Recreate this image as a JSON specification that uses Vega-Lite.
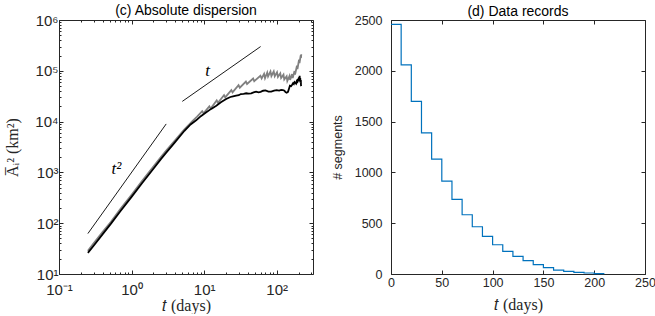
{
  "$schema": "https://vega.github.io/schema/vega-lite/v6.json",
  "background": "white",
  "autosize": {"type": "pad"},
  "padding": {"left": 4, "top": 3, "right": 0, "bottom": 0},
  "bounds": "flush",
  "spacing": 78,
  "config": {
    "view": {"stroke": "#262626", "strokeWidth": 1},
    "axis": {
      "grid": false,
      "domain": false,
      "tickColor": "#262626",
      "tickWidth": 1,
      "labelFont": "Liberation Sans",
      "labelFontSize": 12.5,
      "labelColor": "#262626",
      "labelFlush": false,
      "labelOverlap": false,
      "titleFont": "Liberation Sans",
      "titleFontSize": 12.5,
      "titleFontWeight": "normal",
      "titleColor": "#262626"
    },
    "title": {"font": "Liberation Sans", "fontSize": 14, "fontWeight": "normal", "color": "#000000", "offset": -5}
  },
  "datasets": {
    "black": [
      {"t": 0.25, "A": 26}, {"t": 0.3, "A": 36}, {"t": 0.4, "A": 61}, {"t": 0.52, "A": 98},
      {"t": 0.7, "A": 172}, {"t": 1, "A": 330}, {"t": 1.4, "A": 620}, {"t": 2, "A": 1180},
      {"t": 2.55, "A": 1850}, {"t": 3, "A": 2450}, {"t": 4, "A": 4000}, {"t": 5.35, "A": 6600},
      {"t": 6.5, "A": 8800}, {"t": 7.76, "A": 10600}, {"t": 9, "A": 12800}, {"t": 10.7, "A": 15200},
      {"t": 12.5, "A": 17800}, {"t": 14.7, "A": 20600}, {"t": 17, "A": 24000}, {"t": 20.1, "A": 27900},
      {"t": 23, "A": 30500}, {"t": 25, "A": 31500}, {"t": 27.6, "A": 32400}, {"t": 30, "A": 33000},
      {"t": 32, "A": 34800}, {"t": 35, "A": 35200}, {"t": 37.9, "A": 36100}, {"t": 41, "A": 35500},
      {"t": 44.5, "A": 36000}, {"t": 48, "A": 37500}, {"t": 52, "A": 39000}, {"t": 56, "A": 37800},
      {"t": 60, "A": 38500}, {"t": 65, "A": 40500}, {"t": 70, "A": 41000}, {"t": 77, "A": 39000},
      {"t": 84, "A": 38800}, {"t": 92, "A": 40500}, {"t": 100, "A": 41500}, {"t": 108, "A": 40800},
      {"t": 115, "A": 42000}, {"t": 122, "A": 41500}, {"t": 128, "A": 40500}, {"t": 132, "A": 38000},
      {"t": 137, "A": 37000}, {"t": 143, "A": 38500}, {"t": 148, "A": 45000}, {"t": 152, "A": 51000},
      {"t": 158, "A": 50000}, {"t": 163, "A": 53000}, {"t": 168, "A": 57000}, {"t": 172, "A": 55000},
      {"t": 176, "A": 60000}, {"t": 181, "A": 58000}, {"t": 185, "A": 56000}, {"t": 189, "A": 63000},
      {"t": 193, "A": 61000}, {"t": 196, "A": 69000}, {"t": 199, "A": 62000}, {"t": 202, "A": 74000},
      {"t": 205, "A": 66000}, {"t": 207, "A": 80000}, {"t": 209, "A": 62000}, {"t": 211, "A": 72000},
      {"t": 213, "A": 58000}, {"t": 215, "A": 66000}, {"t": 216, "A": 52000}, {"t": 218, "A": 50000}
    ],
    "gray": [
      {"t": 0.25, "A": 28.5}, {"t": 0.3, "A": 40}, {"t": 0.4, "A": 68}, {"t": 0.52, "A": 107},
      {"t": 0.7, "A": 190}, {"t": 1, "A": 362}, {"t": 1.4, "A": 680}, {"t": 2, "A": 1300},
      {"t": 2.55, "A": 2030}, {"t": 3, "A": 2700}, {"t": 4, "A": 4350}, {"t": 5.35, "A": 7000},
      {"t": 7, "A": 10500}, {"t": 8, "A": 12500},
      {"t": 9.4, "A": 16000}, {"t": 9.8, "A": 14600},
      {"t": 11.8, "A": 20000}, {"t": 12.3, "A": 18000},
      {"t": 14.9, "A": 26000}, {"t": 15.5, "A": 23500},
      {"t": 18.8, "A": 33200}, {"t": 19.5, "A": 30000},
      {"t": 23.7, "A": 41700}, {"t": 24.6, "A": 37700},
      {"t": 29.8, "A": 52000}, {"t": 31, "A": 46500},
      {"t": 37.6, "A": 61500}, {"t": 39, "A": 55000},
      {"t": 47.3, "A": 70500}, {"t": 49, "A": 62500},
      {"t": 59.6, "A": 80000}, {"t": 62, "A": 70500},
      {"t": 67, "A": 87000}, {"t": 69, "A": 71500},
      {"t": 74, "A": 92500}, {"t": 76, "A": 77500},
      {"t": 82, "A": 97000}, {"t": 84.5, "A": 79000},
      {"t": 91, "A": 97000}, {"t": 94, "A": 78000},
      {"t": 101, "A": 93500}, {"t": 104, "A": 75500},
      {"t": 112, "A": 89000}, {"t": 115, "A": 72000},
      {"t": 124, "A": 84000}, {"t": 127, "A": 67500},
      {"t": 137, "A": 78000}, {"t": 140, "A": 63000},
      {"t": 150, "A": 79000}, {"t": 153, "A": 66000},
      {"t": 163, "A": 86000}, {"t": 166, "A": 72000},
      {"t": 176, "A": 99000}, {"t": 179, "A": 84000},
      {"t": 190, "A": 126000}, {"t": 193, "A": 108000},
      {"t": 203, "A": 165000}, {"t": 206, "A": 142000},
      {"t": 214, "A": 200000}, {"t": 216, "A": 180000}, {"t": 218, "A": 212000}
    ],
    "guides": [
      {"g": "t2", "t": 0.25, "A": 62.5}, {"g": "t2", "t": 3, "A": 9000},
      {"g": "t1", "t": 5, "A": 25000}, {"g": "t1", "t": 60, "A": 300000}
    ],
    "guideLabels": [
      {"t": 0.62, "A": 1170, "label": "t²"},
      {"t": 11.2, "A": 100000, "label": "t"}
    ],
    "records": [
      {"t": 0, "n": 2457}, {"t": 10, "n": 2058}, {"t": 20, "n": 1700}, {"t": 30, "n": 1389},
      {"t": 40, "n": 1130}, {"t": 50, "n": 914}, {"t": 60, "n": 734}, {"t": 70, "n": 583},
      {"t": 80, "n": 465}, {"t": 90, "n": 370}, {"t": 100, "n": 288}, {"t": 110, "n": 223},
      {"t": 120, "n": 174}, {"t": 130, "n": 131}, {"t": 140, "n": 92}, {"t": 150, "n": 62},
      {"t": 160, "n": 39}, {"t": 170, "n": 26}, {"t": 180, "n": 16}, {"t": 190, "n": 10},
      {"t": 200, "n": 3}, {"t": 210, "n": 3}
    ]
  },
  "hconcat": [
    {
      "width": 254,
      "height": 254,
      "title": {"text": "(c) Absolute dispersion"},
      "layer": [
        {
          "data": {"name": "gray"},
          "mark": {"type": "line", "color": "#808080", "strokeWidth": 1.8},
          "encoding": {
            "x": {"field": "t", "type": "quantitative",
              "scale": {"type": "log", "domain": [0.1, 316.2278], "nice": false},
              "axis": {"orient": "top", "labels": false, "title": null,
                "values": [0.1,0.2,0.3,0.4,0.5,0.6,0.7,0.8,0.9,1,2,3,4,5,6,7,8,9,10,20,30,40,50,60,70,80,90,100,200,300],
                "tickSize": {"condition": {"test": "indexof([0.1,1,10,100], datum.value) >= 0", "value": -4}, "value": -2}}},
            "y": {"field": "A", "type": "quantitative",
              "scale": {"type": "log", "domain": [10, 1000000], "nice": false},
              "axis": {"orient": "right", "labels": false, "title": null,
                "values": [10,20,30,40,50,60,70,80,90,100,200,300,400,500,600,700,800,900,1000,2000,3000,4000,5000,6000,7000,8000,9000,10000,20000,30000,40000,50000,60000,70000,80000,90000,100000,200000,300000,400000,500000,600000,700000,800000,900000,1000000],
                "tickSize": {"condition": {"test": "indexof([10,100,1000,10000,100000,1000000], datum.value) >= 0", "value": -4}, "value": -2}}}
          }
        },
        {
          "data": {"name": "black"},
          "mark": {"type": "line", "color": "#000000", "strokeWidth": 1.8},
          "encoding": {
            "x": {"field": "t", "type": "quantitative",
              "scale": {"type": "log", "domain": [0.1, 316.2278], "nice": false},
              "axis": {"orient": "bottom", "title": "𝑡 (days)", "titleFont": "Liberation Serif", "titleFontSize": 16, "titlePadding": -2,
                "values": [0.1,0.2,0.3,0.4,0.5,0.6,0.7,0.8,0.9,1,2,3,4,5,6,7,8,9,10,20,30,40,50,60,70,80,90,100,200,300],
                "labelExpr": "datum.value == 0.1 ? '10⁻¹' : datum.value == 1 ? '10⁰' : datum.value == 10 ? '10¹' : datum.value == 100 ? '10²' : ''",
                "labelPadding": 12, "labelFontSize": 15,
                "tickSize": {"condition": {"test": "indexof([0.1,1,10,100], datum.value) >= 0", "value": -4}, "value": -2}}},
            "y": {"field": "A", "type": "quantitative",
              "scale": {"type": "log", "domain": [10, 1000000], "nice": false},
              "axis": {"orient": "left", "title": "A̅ᵢ² (km²)", "titleFont": "Liberation Serif", "titleFontSize": 16, "titlePadding": 14,
                "values": [10,20,30,40,50,60,70,80,90,100,200,300,400,500,600,700,800,900,1000,2000,3000,4000,5000,6000,7000,8000,9000,10000,20000,30000,40000,50000,60000,70000,80000,90000,100000,200000,300000,400000,500000,600000,700000,800000,900000,1000000],
                "labelExpr": "datum.value == 10 ? '10¹' : datum.value == 100 ? '10²' : datum.value == 1000 ? '10³' : datum.value == 10000 ? '10⁴' : datum.value == 100000 ? '10⁵' : datum.value == 1000000 ? '10⁶' : ''",
                "labelPadding": 5, "labelFontSize": 15,
                "tickSize": {"condition": {"test": "indexof([10,100,1000,10000,100000,1000000], datum.value) >= 0", "value": -4}, "value": -2}}}
          }
        },
        {
          "data": {"name": "guides"},
          "mark": {"type": "line", "color": "#000000", "strokeWidth": 0.9},
          "encoding": {
            "x": {"field": "t", "type": "quantitative", "scale": {"type": "log", "domain": [0.1, 316.2278], "nice": false}, "axis": null},
            "y": {"field": "A", "type": "quantitative", "scale": {"type": "log", "domain": [10, 1000000], "nice": false}, "axis": null},
            "detail": {"field": "g"}
          }
        },
        {
          "data": {"name": "guideLabels"},
          "mark": {"type": "text", "font": "Liberation Serif", "fontStyle": "italic", "fontSize": 17, "align": "center", "baseline": "middle", "color": "#000000"},
          "encoding": {
            "x": {"field": "t", "type": "quantitative", "scale": {"type": "log", "domain": [0.1, 316.2278], "nice": false}, "axis": null},
            "y": {"field": "A", "type": "quantitative", "scale": {"type": "log", "domain": [10, 1000000], "nice": false}, "axis": null},
            "text": {"field": "label"}
          }
        }
      ],
      "resolve": {"scale": {"x": "independent", "y": "independent"}}
    },
    {
      "width": 254,
      "height": 254,
      "title": {"text": "(d) Data records"},
      "layer": [
        {
          "data": {"name": "records"},
          "mark": {"type": "line", "interpolate": "step-after", "opacity": 0},
          "encoding": {
            "x": {"field": "t", "type": "quantitative", "scale": {"domain": [0, 250], "nice": false, "zero": false},
              "axis": {"orient": "top", "labels": false, "title": null, "values": [0,50,100,150,200,250], "tickSize": -4}},
            "y": {"field": "n", "type": "quantitative", "scale": {"domain": [0, 2500], "nice": false},
              "axis": {"orient": "right", "labels": false, "title": null, "values": [0,500,1000,1500,2000,2500], "tickSize": -4}}
          }
        },
        {
          "data": {"name": "records"},
          "mark": {"type": "line", "interpolate": "step-after", "color": "#0072BD", "strokeWidth": 1.2},
          "encoding": {
            "x": {"field": "t", "type": "quantitative", "scale": {"domain": [0, 250], "nice": false, "zero": false},
              "axis": {"orient": "bottom", "title": "𝑡 (days)", "titleFont": "Liberation Serif", "titleFontSize": 16, "titlePadding": 8,
                "values": [0,50,100,150,200,250], "tickSize": -4, "labelPadding": 6, "format": "d"}},
            "y": {"field": "n", "type": "quantitative", "scale": {"domain": [0, 2500], "nice": false},
              "axis": {"orient": "left", "title": "# segments", "titlePadding": 10,
                "values": [0,500,1000,1500,2000,2500], "tickSize": -4, "labelPadding": 13, "format": "d"}}
          }
        }
      ],
      "resolve": {"scale": {"x": "independent", "y": "independent"}}
    }
  ]
}
